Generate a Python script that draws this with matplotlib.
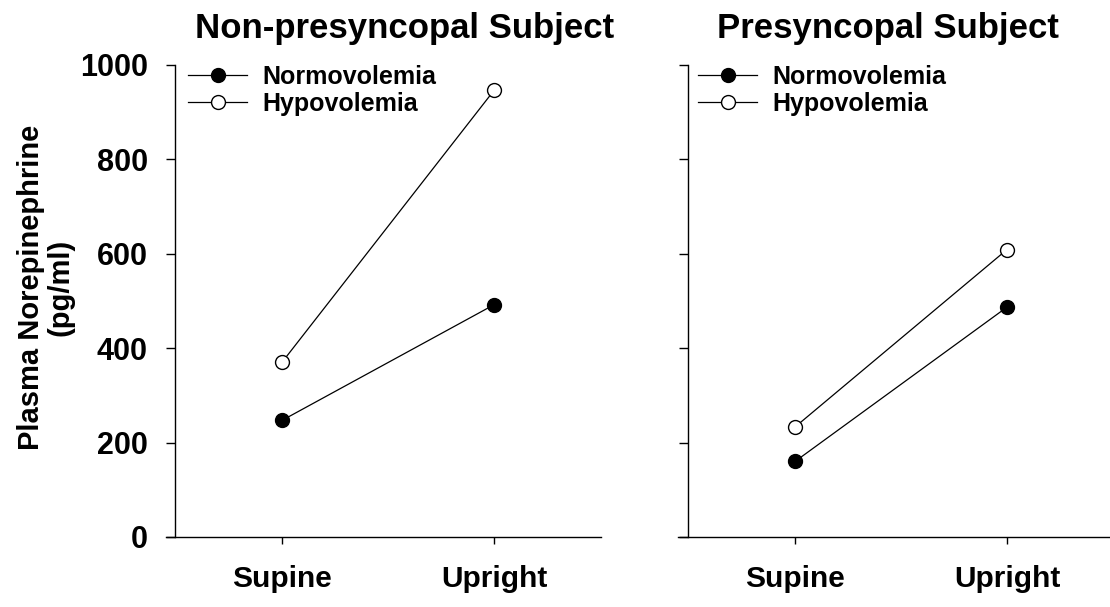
import matplotlib.pyplot as plt

plt.rcParams['font.family'] = ['Liberation Sans', 'DejaVu Sans']
plt.rcParams['font.weight'] = 'bold'

# data
positions = ['Supine', 'Upright']
x = [1, 2]
non_normo = [247, 492]
non_hypo = [370, 946]
pre_normo = [160, 487]
pre_hypo = [233, 609]
titles = ['Non-presyncopal Subject', 'Presyncopal Subject']
yticks = [0, 200, 400, 600, 800, 1000]

W, H = 1110, 607
fig = plt.figure(figsize=(W / 100, H / 100), dpi=100)


def fx(px):
    return px / W


def fy(py):
    return 1 - py / H


ax1 = fig.add_axes([fx(166), fy(537), fx(601) - fx(166), fy(65) - fy(537)])
ax2 = fig.add_axes([fx(678), fy(537), fx(1110) - fx(678), fy(65) - fy(537)])

panels = [(ax1, non_normo, non_hypo, 0.453, 2.505),
          (ax2, pre_normo, pre_hypo, 0.448, 2.486)]

for ax, normo, hypo, x0, x1 in panels:
    ax.plot(x, normo, '-o', color='black', lw=0.9, ms=10,
            mfc='black', mec='black', mew=1, label='Normovolemia', zorder=3)
    ax.plot(x, hypo, '-o', color='black', lw=0.9, ms=10,
            mfc='white', mec='black', mew=1, label='Hypovolemia', zorder=3)
    ax.set_xlim(x0, x1)
    ax.set_ylim(0, 1000)
    ax.set_xticks(x)
    ax.set_xticklabels(positions, fontsize=21.5, fontweight='bold')
    ax.set_yticks(yticks)
    ax.spines['top'].set_visible(False)
    ax.spines['right'].set_visible(False)
    ax.spines['left'].set_position(('data', 0.495))
    ax.spines['left'].set_bounds(0, 1000)
    for s in ['left', 'bottom']:
        ax.spines[s].set_linewidth(1.0)
    ax.tick_params(axis='y', direction='out', length=6.5, width=1, pad=13)
    ax.tick_params(axis='x', direction='out', length=5, width=1, pad=15)

ax1.set_yticklabels([str(v) for v in yticks], fontsize=22, fontweight='bold')
ax2.set_yticklabels([])

# legends
for ax, lx in [(ax1, 188), (ax2, 698)]:
    ax.legend(loc='upper left', bbox_to_anchor=(fx(lx), fy(65)),
              bbox_transform=fig.transFigure, frameon=False,
              handlelength=2.36, handletextpad=0.6,
              labelspacing=0.1, borderpad=0, borderaxespad=0,
              prop={'size': 18, 'weight': 'bold'})

# titles
fig.text(fx(405), fy(38), titles[0], ha='center', va='baseline',
         fontsize=25, fontweight='bold')
fig.text(fx(888), fy(38), titles[1], ha='center', va='baseline',
         fontsize=25, fontweight='bold')

# y label
fig.text(fx(46), fy(287), 'Plasma Norepinephrine\n(pg/ml)', rotation=90,
         ha='center', va='center', multialignment='center',
         fontsize=21, fontweight='bold', linespacing=1.05)

fig.savefig('out.png', dpi=100)
